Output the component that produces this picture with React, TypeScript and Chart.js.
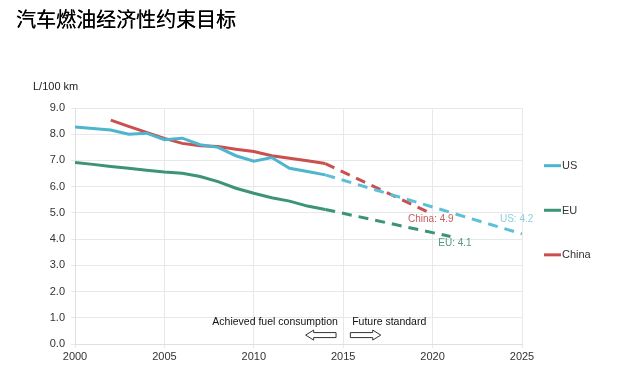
import React, { useEffect, useRef } from "react";
import { Chart, registerables } from "chart.js";

Chart.register(...registerables);

const years = [2000, 2001, 2002, 2003, 2004, 2005, 2006, 2007, 2008, 2009, 2010, 2011, 2012, 2013, 2014];
const usActual = [8.28, 8.22, 8.16, 8.0, 8.04, 7.79, 7.85, 7.6, 7.5, 7.18, 6.97, 7.11, 6.7, 6.58, 6.45];
const euActual = [6.92, 6.85, 6.77, 6.7, 6.63, 6.56, 6.51, 6.39, 6.19, 5.94, 5.75, 5.58, 5.45, 5.26, 5.13];
const chinaYears = [2002, 2003, 2004, 2005, 2006, 2007, 2008, 2009, 2010, 2011, 2012, 2013, 2014];
const chinaActual = [8.54, 8.3, 8.07, 7.84, 7.65, 7.56, 7.53, 7.43, 7.34, 7.18, 7.08, 6.99, 6.88];

const usTargetYears = [2014, 2025];
const usTarget = [6.45, 4.2];
const euTargetYears = [2014, 2021];
const euTarget = [5.13, 4.1];
const chinaTargetYears = [2014, 2020];
const chinaTarget = [6.88, 4.95];

const seriesNames = ["US", "EU", "China"];
const yTicks = [0, 1, 2, 3, 4, 5, 6, 7, 8, 9];
const xTicks = [2000, 2005, 2010, 2015, 2020, 2025];

const title = "汽车燃油经济性约束目标";
const unitLabel = "L/100 km";
const endLabels = ["US: 4.2", "EU: 4.1", "China: 4.9"];
const achievedText = "Achieved fuel consumption";
const futureText = "Future standard";

const US_C = "#4db5cd";
const US_DASH = "#5cc0d8";
const EU_C = "#3c9378";
const CN_C = "#c9504f";

const FONT = "'Liberation Sans', Arial, sans-serif";

const zip = (xs: number[], ys: number[]) => xs.map((x, i) => ({ x, y: ys[i] }));

export default function App() {
  const ref = useRef<HTMLCanvasElement | null>(null);

  useEffect(() => {
    if (!ref.current) return;

    const overlay = {
      id: "overlay",
      afterDraw(chart: any) {
        const ctx = chart.ctx as CanvasRenderingContext2D;
        const xs = chart.scales.x;
        const ys = chart.scales.y;
        const px = (v: number) => xs.getPixelForValue(v);
        const py = (v: number) => ys.getPixelForValue(v);
        ctx.save();
        // title
        ctx.fillStyle = "#000";
        ctx.font = "20px 'Noto Sans CJK SC', sans-serif";
        ctx.textAlign = "left";
        ctx.textBaseline = "middle";
        ctx.fillText(title, 16, 19);
        ctx.fillText(title, 16.3, 19);
        // unit
        ctx.font = `11px ${FONT}`;
        ctx.fillStyle = "#222";
        ctx.fillText(unitLabel, 33, 87);
        // legend
        const legendColors = [US_C, EU_C, CN_C];
        const legendY = [6.8, 5.1, 3.4];
        const lx = chart.chartArea.right + 22;
        seriesNames.forEach((n, i) => {
          const y = py(legendY[i]);
          ctx.strokeStyle = legendColors[i];
          ctx.lineWidth = 3;
          ctx.beginPath();
          ctx.moveTo(lx, y);
          ctx.lineTo(lx + 17, y);
          ctx.stroke();
          ctx.fillStyle = "#333";
          ctx.font = `11px ${FONT}`;
          ctx.textAlign = "left";
          ctx.fillText(n, lx + 18, y + 0.5);
        });
        // end labels
        ctx.font = `10px ${FONT}`;
        ctx.textAlign = "center";
        ctx.fillStyle = "#8ccfdf";
        ctx.fillText(endLabels[0], px(2024.7), py(4.75));
        ctx.fillStyle = "#4f9c82";
        ctx.fillText(endLabels[1], px(2021.25), py(3.83));
        ctx.fillStyle = "#c65c5c";
        ctx.fillText(endLabels[2], px(2019.9), py(4.75));
        // achieved / future
        ctx.fillStyle = "#111";
        ctx.font = `10.5px ${FONT}`;
        ctx.textAlign = "right";
        ctx.fillText(achievedText, px(2014.7), py(0.84));
        ctx.textAlign = "left";
        ctx.fillText(futureText, px(2015.5), py(0.84));
        // arrows
        const cy = py(0.34);
        const arrow = (tip: number, tail: number) => {
          const dir = tail > tip ? 1 : -1;
          const hl = 8 * dir;
          ctx.beginPath();
          ctx.moveTo(tip, cy);
          ctx.lineTo(tip + hl, cy - 5);
          ctx.lineTo(tip + hl, cy - 2.5);
          ctx.lineTo(tail, cy - 2.5);
          ctx.lineTo(tail, cy + 2.5);
          ctx.lineTo(tip + hl, cy + 2.5);
          ctx.lineTo(tip + hl, cy + 5);
          ctx.closePath();
          ctx.strokeStyle = "#333";
          ctx.lineWidth = 1;
          ctx.stroke();
        };
        arrow(px(2012.9), px(2014.6));
        arrow(px(2017.1), px(2015.4));
        ctx.restore();
      },
    };

    const solid = (label: string, data: any[], color: string) => ({
      label,
      data,
      borderColor: color,
      backgroundColor: color,
      borderWidth: 3,
      pointRadius: 0,
      tension: 0,
      fill: false,
    });
    const dashed = (label: string, data: any[], color: string) => ({
      ...solid(label, data, color),
      borderDash: [10, 7],
      borderDashOffset: 0,
    });

    const chart = new Chart(ref.current, {
      type: "line",
      data: {
        datasets: [
          solid(seriesNames[0], zip(years, usActual), US_C),
          solid(seriesNames[1], zip(years, euActual), EU_C),
          solid(seriesNames[2], zip(chinaYears, chinaActual), CN_C),
          dashed(seriesNames[0] + " target", zip(usTargetYears, usTarget), US_DASH),
          dashed(seriesNames[1] + " target", zip(euTargetYears, euTarget), EU_C),
          dashed(seriesNames[2] + " target", zip(chinaTargetYears, chinaTarget), CN_C),
        ] as any,
      },
      options: {
        responsive: false,
        animation: false,
        layout: { padding: { top: 108, right: 112, bottom: 0, left: 0 } },
        plugins: { legend: { display: false }, tooltip: { enabled: false } },
        scales: {
          x: {
            type: "linear",
            min: 2000,
            max: 2025,
            afterFit: (s: any) => {
              s.height = 36;
            },
            afterBuildTicks: (s: any) => {
              s.ticks = xTicks.map((v) => ({ value: v }));
            },
            ticks: {
              callback: (v: any) => String(v),
              font: { family: FONT, size: 11 },
              color: "#333",
              padding: 2,
              maxRotation: 0,
            },
            grid: { color: "#e8e8e8", tickLength: 4, lineWidth: 1 },
            border: { color: "#e0e0e0" },
          },
          y: {
            min: 0,
            max: 9,
            afterFit: (s: any) => {
              s.width = 75;
            },
            afterBuildTicks: (s: any) => {
              s.ticks = yTicks.map((v) => ({ value: v }));
            },
            ticks: {
              callback: (v: any) => Number(v).toFixed(1),
              font: { family: FONT, size: 11 },
              color: "#333",
              padding: 6,
            },
            grid: { color: "#e8e8e8", tickLength: 4, lineWidth: 1 },
            border: { color: "#e0e0e0" },
          },
        },
      },
      plugins: [overlay],
    });
    return () => chart.destroy();
  }, []);

  return (
    <div style={{ position: "absolute", left: 0, top: 0, width: 634, height: 380, background: "#fff" }}>
      <canvas ref={ref} width={634} height={380} />
    </div>
  );
}
